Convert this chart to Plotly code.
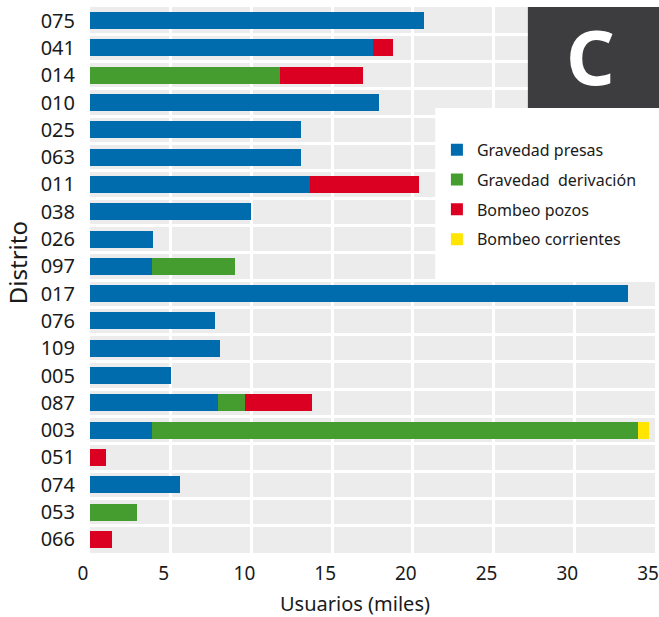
import plotly.graph_objects as go

distritos = ["075", "041", "014", "010", "025", "063", "011", "038", "026", "097",
             "017", "076", "109", "005", "087", "003", "051", "074", "053", "066"]
grav_presas = [20.7, 17.5, 0, 17.9, 13.1, 13.1, 13.6, 10.0, 3.9, 3.85,
               33.3, 7.75, 8.05, 5.0, 7.9, 3.85, 0, 5.6, 0, 0]
grav_deriv = [0, 0, 11.8, 0, 0, 0, 0, 0, 0, 5.15,
              0, 0, 0, 0, 1.7, 30.1, 0, 0, 2.9, 0]
bomb_pozos = [0, 1.3, 5.1, 0, 0, 0, 6.8, 0, 0, 0,
              0, 0, 0, 0, 4.15, 0, 1.0, 0, 0, 1.35]
bomb_corr = [0, 0, 0, 0, 0, 0, 0, 0, 0, 0,
             0, 0, 0, 0, 0, 0.65, 0, 0, 0, 0]

series = [
    ("Gravedad presas", grav_presas, "#006BAD"),
    ("Gravedad\u00a0 derivación", grav_deriv, "#459C2F"),
    ("Bombeo pozos", bomb_pozos, "#DB0021"),
    ("Bombeo corrientes", bomb_corr, "#FFE500"),
]

FONT = "Noto Sans"
fig = go.Figure()
for i, (name, vals, col) in enumerate(series):
    fig.add_trace(go.Bar(
        y=distritos, x=vals, name=name, orientation="h",
        marker=dict(color=col, line=dict(width=0)),
        legendgroup=str(i),
    ))

fig.update_layout(
    width=659, height=617,
    barmode="stack", bargap=0.38,
    margin=dict(l=90, r=4, t=7, b=64, autoexpand=False),
    paper_bgcolor="white", plot_bgcolor="#EBECEB",
    font=dict(family=FONT, color="#1a1a1a", size=19),
    showlegend=True,
    legend=dict(
        x=0.614, y=0.7695, xanchor="left", yanchor="top",
        bgcolor="rgba(0,0,0,0)", traceorder="grouped",
        font=dict(family=FONT, size=16, color="#1a1a1a"),
        tracegroupgap=6, itemwidth=30,
    ),
    xaxis=dict(
        range=[0, 35], dtick=5, tick0=0, automargin=False,
        showgrid=True, gridcolor="white", gridwidth=3,
        zeroline=False, showline=False,
        ticks="", ticklabelstandoff=7,
        ticklabelshift=-7,
        tickfont=dict(size=19),
    ),
    yaxis=dict(
        type="category", autorange="reversed", automargin=False,
        tickson="boundaries", showgrid=True, gridcolor="white", gridwidth=3,
        ticks="", ticklabelstandoff=14,
        showline=False, zeroline=False,
        tickfont=dict(size=20),
    ),
    shapes=[
        dict(type="rect", xref="paper", yref="paper",
             x0=0.611, x1=1.01, y0=0.5, y1=0.815,
             fillcolor="white", line=dict(width=0), layer="below"),
        dict(type="rect", xref="paper", yref="paper",
             x0=0.775, x1=1.01, y0=0.815, y1=1.0,
             fillcolor="#3D3D3F", line=dict(width=0), layer="above"),
    ],
    annotations=[
        dict(text="<b>C</b>", xref="paper", yref="paper",
             x=0.885, y=1.0, xanchor="center", yanchor="top", yshift=5,
             showarrow=False, font=dict(family=FONT, size=76, color="white")),
        dict(text="Usuarios (miles)", xref="paper", yref="paper",
             x=0.469, y=-0.092, xanchor="center", yanchor="middle",
             showarrow=False, font=dict(family=FONT, size=20, color="#1a1a1a")),
        dict(text="Distrito", xref="paper", yref="paper", textangle=-90,
             x=-0.129, y=0.531, xanchor="center", yanchor="middle",
             showarrow=False, font=dict(family=FONT, size=24, color="#1a1a1a")),
    ],
)

fig.write_html("out.html", config={"displayModeBar": False},
               post_script="document.body.style.margin='0';")
